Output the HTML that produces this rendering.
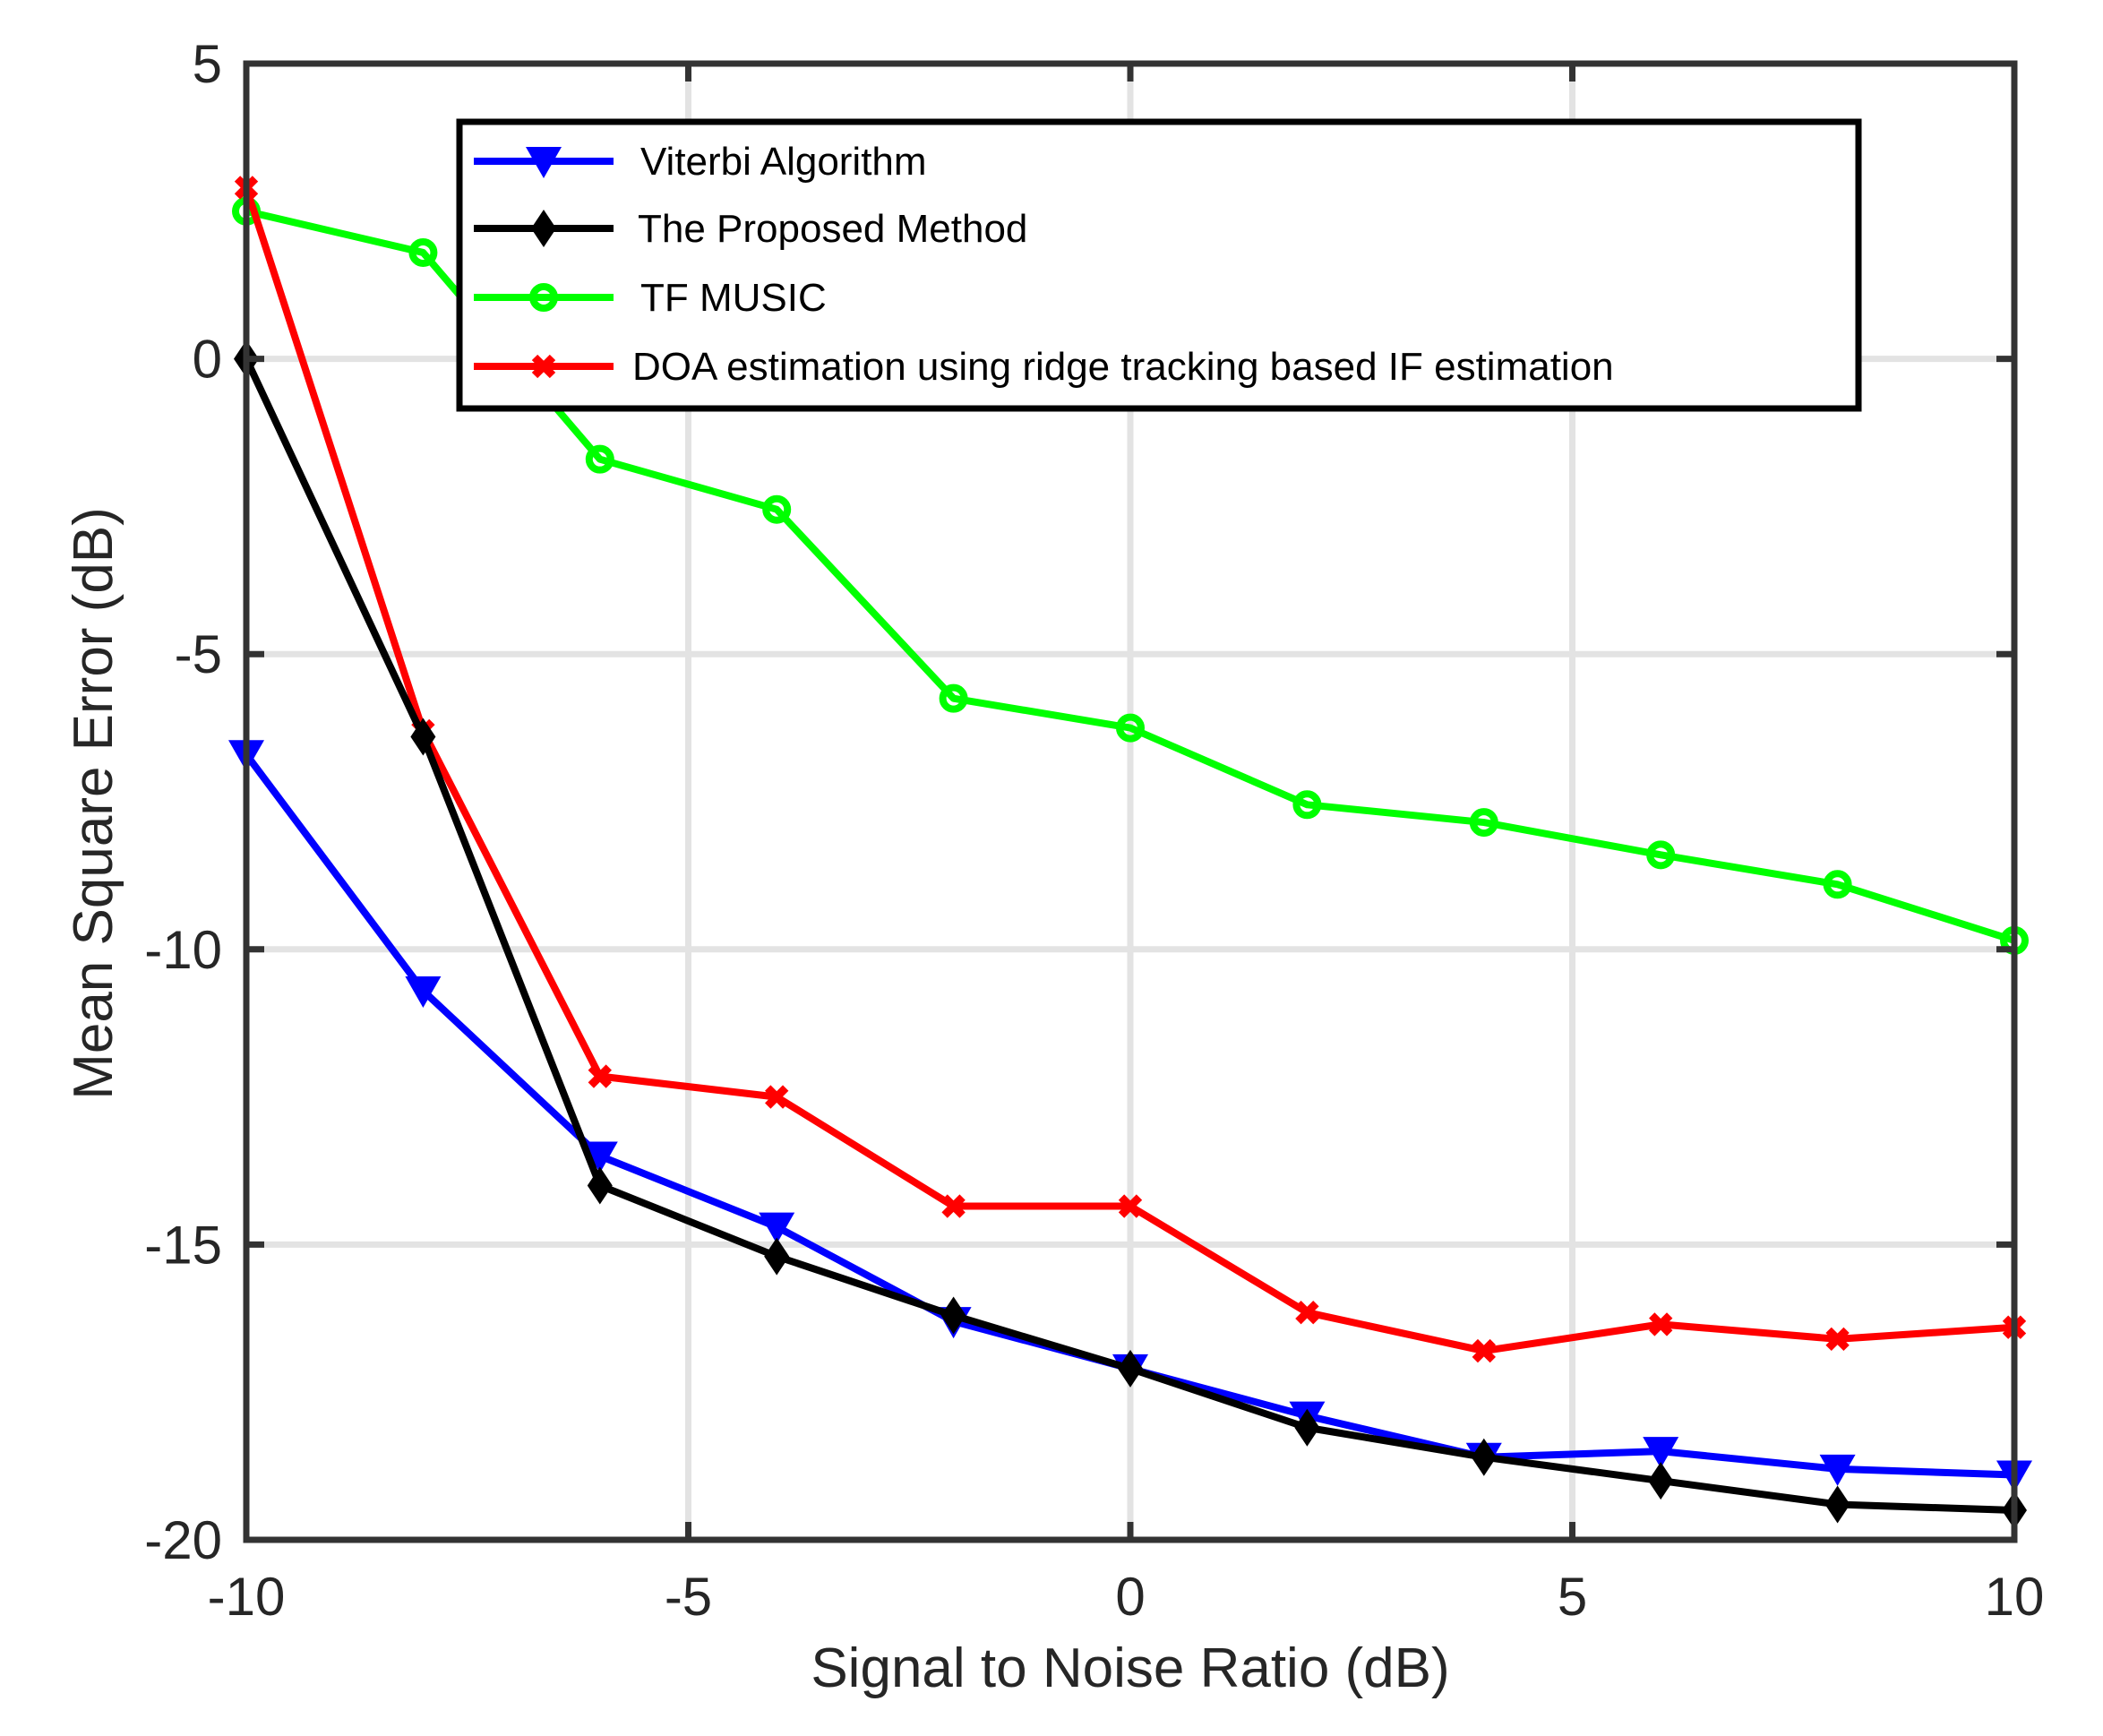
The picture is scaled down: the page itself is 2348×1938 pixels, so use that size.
<!DOCTYPE html>
<html><head><meta charset="utf-8"><style>
html,body{margin:0;padding:0;background:#fff;}
svg{display:block;}
text{font-family:"Liberation Sans",Arial,sans-serif;}
</style></head><body>
<svg id="chart" width="2348" height="1938" viewBox="0 0 2348 1938" xmlns="http://www.w3.org/2000/svg">
<g id="grid"></g>
<g id="series"></g>
<rect x="275" y="71" width="1974" height="1648" fill="none" stroke="#333" stroke-width="7"/>
<g id="ticks"></g>
<text x="1262" y="1883" font-size="62" fill="#262626" text-anchor="middle">Signal to Noise Ratio (dB)</text>
<text transform="translate(125,897) rotate(-90)" font-size="62" fill="#262626" text-anchor="middle">Mean Square Error (dB)</text>
<g id="legend">
<rect x="513" y="136" width="1562" height="320" fill="#fff" stroke="#000" stroke-width="7"/>
</g>
</svg>
<script>
const snr = [-10,-8,-6,-4,-2,0,2,4,6,8,10];
const viterbi = [-6.7,-10.7,-13.5,-14.7,-16.3,-17.1,-17.9,-18.6,-18.5,-18.8,-18.9];
const proposed = [0,-6.4,-14.0,-15.2,-16.2,-17.1,-18.1,-18.6,-19.0,-19.4,-19.5];
const tfMusic = [2.5,1.8,-1.7,-2.55,-5.75,-6.25,-7.55,-7.85,-8.4,-8.9,-9.85];
const ridge = [2.9,-6.3,-12.15,-12.5,-14.35,-14.35,-16.15,-16.8,-16.35,-16.6,-16.4];
const xTicks = [-10,-5,0,5,10];
const yTicks = [5,0,-5,-10,-15,-20];
const legendLabels = ["Viterbi Algorithm","The Proposed Method","TF MUSIC","DOA estimation using ridge tracking based IF estimation"];

const NS="http://www.w3.org/2000/svg";
const L=275,R=2249,T=71,B=1719;
const sx=v=>L+(v+10)/20*(R-L);
const sy=v=>T+(5-v)/25*(B-T);
function mk(tag,attrs,parent){const e=document.createElementNS(NS,tag);for(const k in attrs)e.setAttribute(k,attrs[k]);parent.appendChild(e);return e;}
const grid=document.getElementById('grid'),ticks=document.getElementById('ticks'),ser=document.getElementById('series'),leg=document.getElementById('legend');
xTicks.forEach(v=>{const x=sx(v);
 const g=mk('line',{x1:x,x2:x,y1:T,y2:B,stroke:'#e3e3e3','stroke-width':7},grid);
 
 
 mk('line',{x1:x,x2:x,y1:B,y2:B-20,stroke:'#333','stroke-width':7},ticks);
 mk('line',{x1:x,x2:x,y1:T,y2:T+20,stroke:'#333','stroke-width':7},ticks);
 const t=mk('text',{x:x,y:1803,'font-size':60,fill:'#262626','text-anchor':'middle'},ticks);t.textContent=v;
 
 
});
yTicks.forEach(v=>{const y=sy(v);
 const g=mk('line',{x1:L,x2:R,y1:y,y2:y,stroke:'#e3e3e3','stroke-width':7},grid);
 
 
 mk('line',{x1:L,x2:L+20,y1:y,y2:y,stroke:'#333','stroke-width':7},ticks);
 mk('line',{x1:R,x2:R-20,y1:y,y2:y,stroke:'#333','stroke-width':7},ticks);
 const t=mk('text',{x:248,y:y+21,'font-size':60,fill:'#262626','text-anchor':'end'},ticks);t.textContent=v;
 
 
});
function marker(type,x,y,color,parent){
 if(type==='tri') return mk('path',{d:`M${x-20},${y-16} L${x+20},${y-16} L${x},${y+19} Z`,fill:color},parent);
 if(type==='dia') return mk('path',{d:`M${x},${y-21} L${x+14},${y} L${x},${y+21} L${x-14},${y} Z`,fill:color},parent);
 if(type==='circ') return mk('circle',{cx:x,cy:y,r:12,fill:'none',stroke:color,'stroke-width':8},parent);
 const g=mk('g',{},parent);
 mk('path',{d:`M${x-10},${y-10} L${x+10},${y+10} M${x+10},${y-10} L${x-10},${y+10}`,stroke:color,'stroke-width':9},g);
 return g;
}
const series=[
 {name:'viterbi',data:viterbi,color:'#0000ff',m:'tri'},
 {name:'proposed',data:proposed,color:'#000000',m:'dia'},
 {name:'tf-music',data:tfMusic,color:'#00ff00',m:'circ'},
 {name:'ridge-tracking',data:ridge,color:'#ff0000',m:'x'}];
const order=[2,3,0,1];
order.forEach(i=>{const s=series[i];
 const g=mk('g',{},ser);
 
 
 const pts=s.data.map((v,j)=>sx(snr[j])+','+sy(v)).join(' ');
 mk('polyline',{points:pts,fill:'none',stroke:s.color,'stroke-width':8,'stroke-linejoin':'round'},g);
 s.data.forEach((v,j)=>{const m=marker(s.m,sx(snr[j]),sy(v),s.color,g);
  
  });
});
const ly=[180,255,332,409], lx=[715,712,715,706];
series.forEach((s,i)=>{const g=mk('g',{},leg);
 
 
 mk('line',{x1:529,x2:685,y1:ly[i],y2:ly[i],stroke:s.color,'stroke-width':8},g);
 marker(s.m,607,ly[i],s.color,g);
 const t=mk('text',{x:lx[i],y:ly[i]+15,'font-size':44,fill:'#000'},g);t.textContent=legendLabels[i];
});
</script>
</body></html>
